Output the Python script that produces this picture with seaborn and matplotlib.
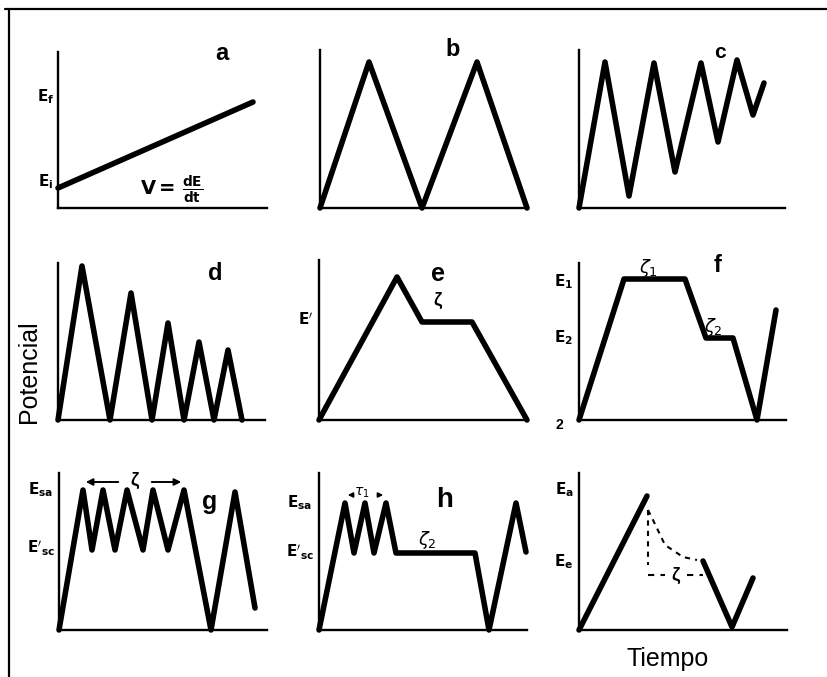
import matplotlib
matplotlib.use("Agg")
import matplotlib.pyplot as plt
import seaborn as sns
import numpy as np
from matplotlib.lines import Line2D

sns.set_style("white")
plt.rcParams['font.family'] = ['Liberation Sans', 'DejaVu Sans']
plt.rcParams['mathtext.fontset'] = 'dejavusans'
plt.rcParams['text.color'] = 'black'

W_PX, H_PX = 827, 677

# ---- waveform data (time, potential) ----
a_t = [0, 195]
a_E = [20, 106]

b_t = [0, 49, 102, 157, 207]
b_E = [0, 146, 0, 146, 0]

c_t = [0, 26, 50, 75, 96, 122, 139, 158, 174, 185]
c_E = [0, 146, 12, 145, 36, 145, 66, 148, 93, 125]

d_t = [0, 24, 52, 73, 94, 110, 126, 141, 156, 170, 184]
d_E = [0, 154, 0, 127, 0, 97, 0, 78, 0, 70, 0]

e_t = [0, 78, 103, 153, 208]
e_E = [0, 143, 98, 98, 0]

f_t = [0, 45, 106, 127, 154, 178, 197]
f_E = [0, 141, 141, 82, 82, 0, 110]

g_t = [0, 24, 33, 44, 56, 68, 84, 94, 109, 125, 152, 176, 196]
g_E = [0, 140, 80, 140, 80, 140, 80, 140, 80, 140, 0, 138, 22]

h_t = [0, 26, 35, 46, 55, 67, 77, 156, 170, 197, 207]
h_E = [0, 127, 77, 127, 77, 127, 77, 77, 0, 127, 78]

i1_t = [0, 68]
i1_E = [0, 134]
i2_t = [124, 153, 174]
i2_E = [69, 3, 52]
idv_t = [69, 69]
idv_E = [120, 65]
idc_t = [69, 74, 86, 104, 118]
idc_E = [120, 110, 85, 73, 70]

fig = plt.figure(figsize=(W_PX / 100, H_PX / 100), dpi=100)

def fx(x):
    return x / W_PX

def fy(y):
    return 1 - y / H_PX

def panel(x0, x1, top, y0):
    ax = fig.add_axes([fx(x0), fy(y0), (x1 - x0) / W_PX, (y0 - top) / H_PX])
    ax.set_xlim(0, x1 - x0)
    ax.set_ylim(0, y0 - top)
    ax.set_xticks([])
    ax.set_yticks([])
    sns.despine(ax=ax)
    for s in ('left', 'bottom'):
        ax.spines[s].set_linewidth(1.7)
        ax.spines[s].set_color('black')
    ax.set_facecolor('none')
    return ax

LW = 4.0

def wave(ax, t, E, lw=LW, ls='-'):
    sns.lineplot(x=t, y=E, ax=ax, sort=False, estimator=None, color='black',
                 linewidth=lw, linestyle=ls, legend=False)
    for ln in ax.lines:
        ln.set_clip_on(False)

def txt(x, y, s, size=10, ha='center', va='center', weight='normal', **kw):
    fig.text(fx(x), fy(y), s, fontsize=size, ha=ha, va=va, fontweight=weight,
             color='black', **kw)

# frame
fig.add_artist(Line2D([fx(5), fx(827)], [fy(9), fy(9)], color='black', lw=1.6))
fig.add_artist(Line2D([fx(9), fx(9)], [fy(9), fy(677)], color='black', lw=1.6))

# a
ax = panel(58, 267, 52, 208)
wave(ax, a_t, a_E)
txt(222, 54, 'a', size=17, weight='bold')
txt(46, 97, r'$\mathbf{E_f}$', size=11)
txt(46, 182, r'$\mathbf{E_i}$', size=11)
txt(172, 190, r'$\mathbf{V=\,\frac{dE}{dt}}$', size=14)

# b
ax = panel(320, 528, 50, 208)
wave(ax, b_t, b_E)
txt(453, 50, 'b', size=17, weight='bold')

# c
ax = panel(579, 785, 50, 208)
wave(ax, c_t, c_E)
txt(720, 52, 'c', size=15, weight='bold')

# d
ax = panel(58, 265, 263, 420)
wave(ax, d_t, d_E)
txt(215, 273, 'd', size=17, weight='bold')
txt(29, 372, 'Potencial', size=18, rotation=90)

# e
ax = panel(319, 527, 260, 420)
wave(ax, e_t, e_E)
txt(438, 274, 'e', size=18, weight='bold')
txt(438, 300, 'ζ', size=13, weight='bold')
txt(306, 320, r"$\mathbf{E'}$", size=11)

# f
ax = panel(579, 786, 263, 420)
wave(ax, f_t, f_E)
txt(718, 266, 'f', size=17, weight='bold')
txt(648, 268, r'$\zeta_1$', size=13)
txt(713, 327, r'$\zeta_2$', size=13)
txt(564, 282, r'$\mathbf{E_1}$', size=11)
txt(564, 338, r'$\mathbf{E_2}$', size=11)
txt(559, 425, '2', size=10, weight='bold')

# g
ax = panel(59, 267, 473, 630)
wave(ax, g_t, g_E)
txt(210, 502, 'g', size=18, weight='bold')
txt(135, 480, 'ζ', size=13, weight='bold')
txt(41, 490, r'$\mathbf{E_{sa}}$', size=11)
txt(41, 548, r"$\mathbf{E'_{sc}}$", size=11)
ax.annotate('', xy=(24, 148), xytext=(62, 148), annotation_clip=False,
            arrowprops=dict(arrowstyle='-|>', color='black', lw=1.4, mutation_scale=10))
ax.annotate('', xy=(125, 148), xytext=(90, 148), annotation_clip=False,
            arrowprops=dict(arrowstyle='-|>', color='black', lw=1.4, mutation_scale=10))

# h
ax = panel(319, 527, 473, 630)
wave(ax, h_t, h_E)
txt(445, 500, 'h', size=20, weight='bold')
txt(427, 540, r'$\zeta_2$', size=13)
txt(362, 493, r'$\tau_1$', size=10)
txt(300, 503, r'$\mathbf{E_{sa}}$', size=11)
txt(300, 552, r"$\mathbf{E'_{sc}}$", size=11)
ax.annotate('', xy=(26, 135), xytext=(36, 135), annotation_clip=False,
            arrowprops=dict(arrowstyle='-|>', color='black', lw=1.2, mutation_scale=7))
ax.annotate('', xy=(67, 135), xytext=(56, 135), annotation_clip=False,
            arrowprops=dict(arrowstyle='-|>', color='black', lw=1.2, mutation_scale=7))

# i
ax = panel(579, 787, 473, 630)
wave(ax, i1_t, i1_E)
wave(ax, i2_t, i2_E)
wave(ax, idv_t, idv_E, lw=1.5, ls=(0, (2.5, 2.5)))
wave(ax, idc_t, idc_E, lw=1.5, ls=(0, (2.5, 2.5)))
ax.plot([69, 86], [55, 55], color='black', lw=1.5, ls=(0, (3, 3)))
ax.plot([108, 124], [55, 55], color='black', lw=1.5, ls=(0, (3, 3)))
txt(676, 575, 'ζ', size=13, weight='bold')
txt(564, 490, r'$\mathbf{E_a}$', size=11)
txt(564, 562, r'$\mathbf{E_e}$', size=11)
txt(668, 659, 'Tiempo', size=18)

fig.savefig('out.png', dpi=100)
